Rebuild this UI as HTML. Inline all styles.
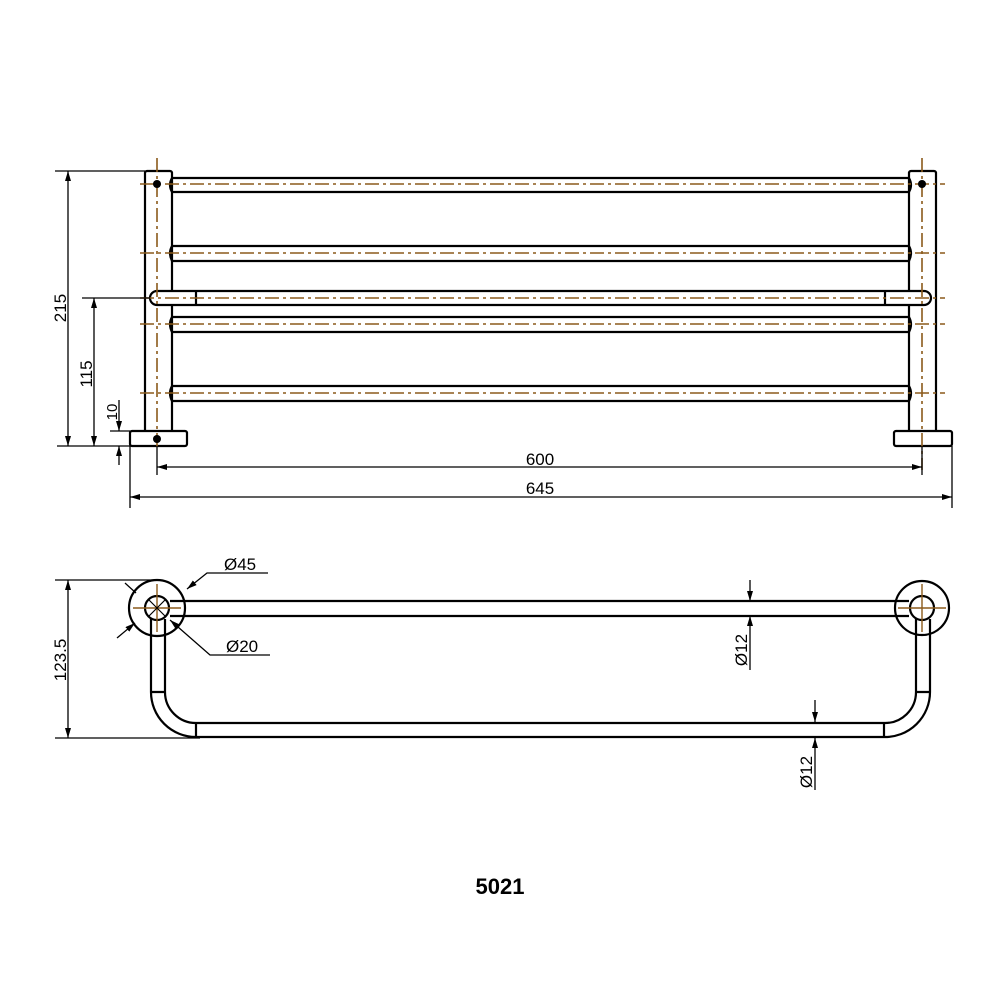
<!DOCTYPE html>
<html><head><meta charset="utf-8"><style>
html,body{margin:0;padding:0;background:#fff;width:1000px;height:1000px;overflow:hidden}
svg{display:block}
text{font-family:"Liberation Sans Narrow","Liberation Sans",sans-serif;fill:#000}
</style></head><body>
<svg width="1000" height="1000" viewBox="0 0 1000 1000" xmlns="http://www.w3.org/2000/svg">
<defs>
<marker id="a" viewBox="0 0 10 6" refX="10" refY="3" markerWidth="10" markerHeight="6" orient="auto-start-reverse" markerUnits="userSpaceOnUse"><path d="M0,0 L10,3 L0,6 z" fill="#000"/></marker>
</defs>
<g fill="none" stroke="#000" stroke-width="2.2">
<rect x="145" y="171" width="27" height="261" rx="2" fill="#fff"/>
<rect x="909" y="171" width="27" height="261" rx="2" fill="#fff"/>
<rect x="130" y="431" width="57" height="15" rx="2" fill="#fff"/>
<rect x="894" y="431" width="58" height="15" rx="2" fill="#fff"/>
<path d="M172,178 H909 M172,192 H909"/>
<path d="M172,246 H909 M172,261 H909"/>
<path d="M172,317 H909 M172,332 H909"/>
<path d="M172,386 H909 M172,401 H909"/>
<path d="M172,178 q-4,7 0,14 M909,178 q4,7 0,14 M172,246 q-4,7 0,15 M909,246 q4,7 0,15 M172,317 q-4,7 0,15 M909,317 q4,7 0,15 M172,386 q-4,7 0,15 M909,386 q4,7 0,15"/>
<path d="M157,291 H924 A7,7 0 0 1 924,305 H157 A7,7 0 0 1 157,291 Z" fill="#fff"/>
<path d="M196,291 V305 M885,291 V305"/>
</g>
<g stroke="#8b5a1b" stroke-width="1.6" stroke-dasharray="14,4,3,4" fill="none">
<path d="M140,184 H945 M140,253 H945 M140,298 H945 M140,324 H945 M140,393 H945"/>
<path d="M157,158 V450 M922,158 V470"/>
</g>
<circle cx="157" cy="184" r="4" fill="#000"/><circle cx="922" cy="184" r="4" fill="#000"/>
<circle cx="157" cy="439" r="4" fill="#000"/>
<g stroke="#000" stroke-width="1.3" fill="none">
<path d="M55,171 H145 M57,446 H130 M82,298 H150 M110,431 H130"/>
<path d="M68,171 V446" marker-start="url(#a)" marker-end="url(#a)"/>
<path d="M94,298 V446" marker-start="url(#a)" marker-end="url(#a)"/>
<path d="M119,400 V431" marker-end="url(#a)"/><path d="M119,465 V446" marker-end="url(#a)"/>
<path d="M157,446 V475 M922,446 V475 M130,446 V508 M952,446 V508"/>
<path d="M157,467 H922" marker-start="url(#a)" marker-end="url(#a)"/>
<path d="M130,497 H952" marker-start="url(#a)" marker-end="url(#a)"/>
</g>
<text x="540" y="465" font-size="17" text-anchor="middle">600</text>
<text x="540" y="494" font-size="17" text-anchor="middle">645</text>
<text transform="translate(66,308) rotate(-90)" font-size="17" text-anchor="middle">215</text>
<text transform="translate(92,374) rotate(-90)" font-size="17" text-anchor="middle">115</text>
<text transform="translate(117,412) rotate(-90)" font-size="15" text-anchor="middle">10</text>
<g fill="none" stroke="#000" stroke-width="2.2">
<circle cx="157" cy="608" r="28" fill="#fff"/>
<circle cx="922" cy="608" r="27" fill="#fff"/>
<path d="M170,601 H909 M170,616 H909"/>
<circle cx="157" cy="608" r="12" fill="#fff"/>
<circle cx="922" cy="608" r="12" fill="#fff"/>
<path d="M151,619 V692 A45,45 0 0 0 196,737 H884 A45,45 0 0 0 930,692 V619"/>
<path d="M165,619 V692 A31,31 0 0 0 196,723 H884 A31,31 0 0 0 916,692 V619"/>
<path d="M151,692 H165 M916,692 H930 M196,723 V737 M884,723 V737"/>
</g>
<g stroke="#8b5a1b" stroke-width="1.4" fill="none">
<path d="M133,608 H181 M157,584 V632 M898,608 H946 M922,584 V632"/>
</g>
<g stroke="#000" stroke-width="1.2"><path d="M149,600 L165,616 M165,600 L149,616"/></g>
<g stroke="#000" stroke-width="1.3" fill="none">
<path d="M55,580 H157 M55,738 H200"/>
<path d="M68,580 V738" marker-start="url(#a)" marker-end="url(#a)"/>
<path d="M268,573 H207 L187,589" marker-end="url(#a)"/>
<path d="M125,583 L136,593"/>
<path d="M117,638 L135,623" marker-end="url(#a)"/>
<path d="M270,655 H210 L170,620" marker-end="url(#a)"/>
<path d="M750,580 V601" marker-end="url(#a)"/><path d="M750,670 V616" marker-end="url(#a)"/>
<path d="M815,700 V722" marker-end="url(#a)"/><path d="M815,790 V738" marker-end="url(#a)"/>
</g>
<text x="224" y="570" font-size="17">Ø45</text>
<text x="226" y="652" font-size="17">Ø20</text>
<text transform="translate(66,660) rotate(-90)" font-size="17" text-anchor="middle">123.5</text>
<text transform="translate(747,650) rotate(-90)" font-size="17" text-anchor="middle">Ø12</text>
<text transform="translate(812,772) rotate(-90)" font-size="17" text-anchor="middle">Ø12</text>
<text x="500" y="894" font-size="22" font-weight="bold" text-anchor="middle" style="font-family:'Liberation Sans',sans-serif">5021</text>
</svg>
</body></html>
